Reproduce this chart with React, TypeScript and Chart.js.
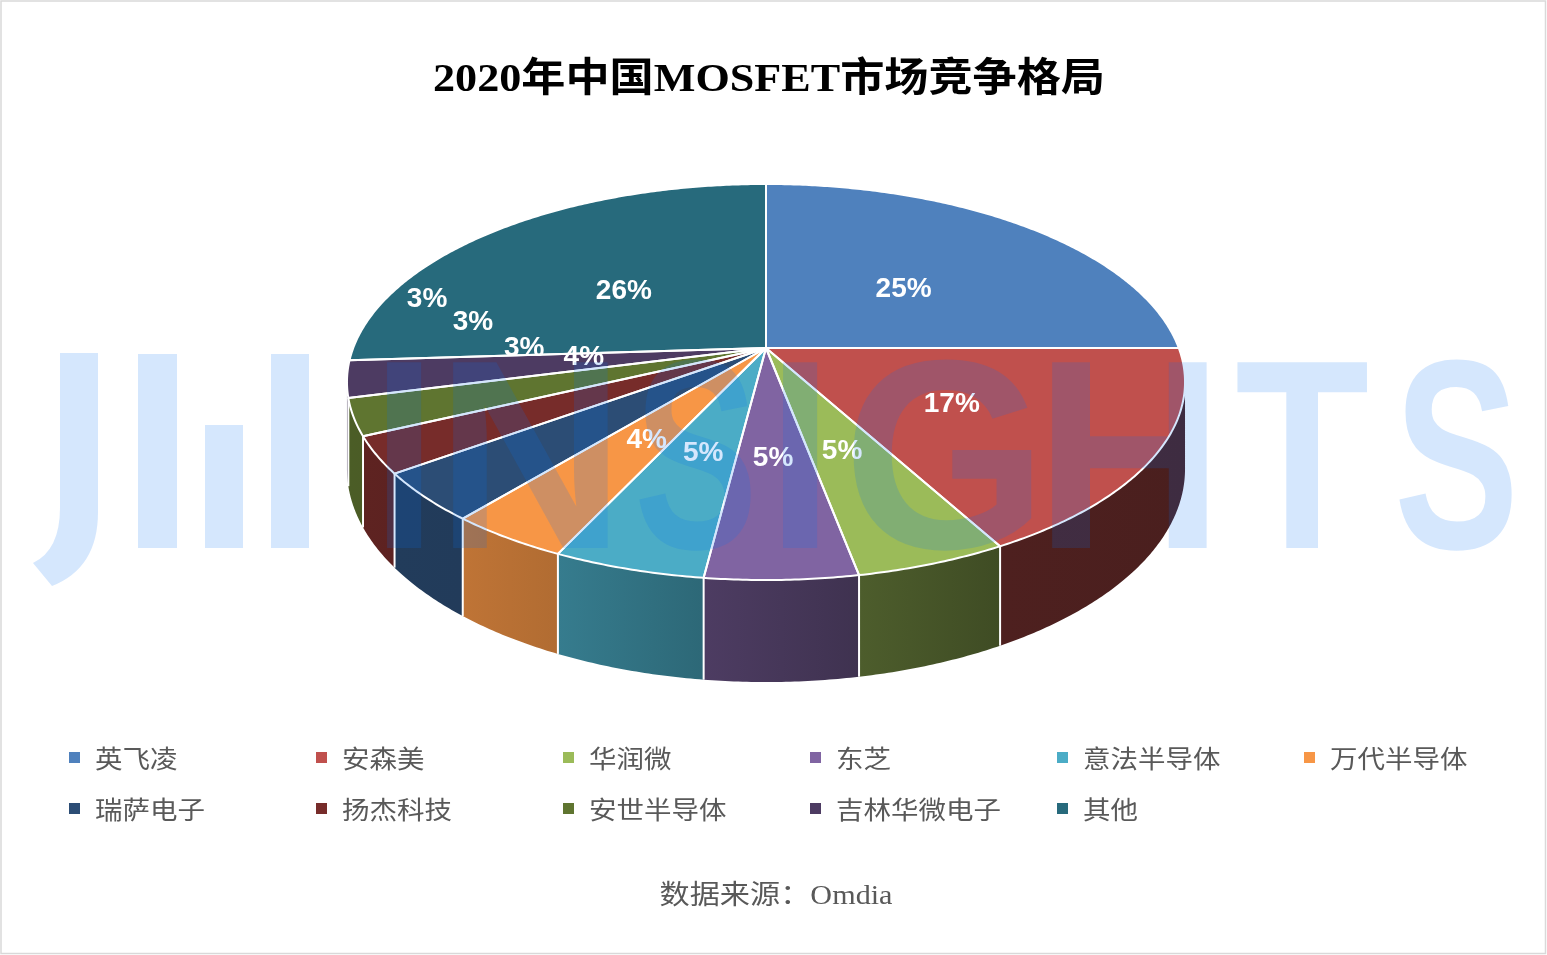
import React, { useEffect, useRef } from 'react';
import { Chart, registerables } from 'chart.js';

Chart.register(...registerables);

// ---------------- data ----------------
const categories = ['英飞凌', '安森美', '华润微', '东芝', '意法半导体', '万代半导体', '瑞萨电子', '扬杰科技', '安世半导体', '吉林华微电子', '其他'];
const shares = [25, 17, 5, 5, 5, 4, 4, 3, 3, 3, 26];
const sliceColors = ['#4F81BD', '#C0504D', '#9BBB59', '#8064A2', '#4BACC6', '#F79646', '#2C4D75', '#772C2A', '#5F7530', '#4D3B62', '#276A7C'];
const chartTitle = '2020年中国MOSFET市场竞争格局';
const sourceNote = '数据来源：Omdia';
const watermarkWord = 'INSIGHTS';

// ---------------- layout / style ----------------
const BASE_W = 1547;
const DEG = Math.PI / 180;
const PIE = { cx: 766, cy: 348, a: 412.8, b: 192.2, p: 0.1717, depth: 84.5 };
const LABEL_R = 0.5;
const LABEL_DY = 5;
// Excel "best fit" moved labels of the narrow slices: [angle deg, radius fraction]
const LABEL_MOVES: Record<number, [number, number]> = { 6: [175.3, 0.44], 7: [181, 0.587], 8: [191.5, 0.743], 9: [197.9, 0.904] };
const WALL_LIGHT: [number, number][] = [[0, 0.38], [60, 0.4], [90, 0.55], [108, 0.68], [125, 0.77], [180, 0.8]];
const WM_COLOR = 'rgba(8,114,243,0.17)';
const WM_LETTERS: [number, number][] = [[386, 423], [452, 608], [637, 753], [782, 819], [851, 1032], [1051, 1207], [1235, 1369], [1397, 1514]];
const SERIF = '"Liberation Serif", "Noto Sans CJK SC", serif';
const CJK = '"Noto Sans CJK SC", "Liberation Serif", sans-serif';

function shade(hex: string, f: number) {
  const n = parseInt(hex.slice(1), 16);
  const r = (n >> 16) & 255, g = (n >> 8) & 255, b = n & 255;
  return `rgb(${Math.round(r * f)},${Math.round(g * f)},${Math.round(b * f)})`;
}

function lightAt(d: number) {
  for (let i = 1; i < WALL_LIGHT.length; i++) {
    const [d0, f0] = WALL_LIGHT[i - 1];
    const [d1, f1] = WALL_LIGHT[i];
    if (d <= d1) return f0 + (f1 - f0) * Math.max(0, (d - d0) / (d1 - d0));
  }
  return WALL_LIGHT[WALL_LIGHT.length - 1][1];
}

function proj(t: number, r = 1) {
  const u = r * Math.cos(t), v = r * Math.sin(t);
  const w = 1 / (1 - PIE.p * v);
  return { x: PIE.cx + PIE.a * u * w, y: PIE.cy + PIE.b * v * w, w };
}

function stretchText(ctx: CanvasRenderingContext2D, text: string, cx: number, cy: number, targetW: number) {
  const w = ctx.measureText(text).width;
  ctx.save();
  ctx.translate(cx, cy);
  ctx.scale(targetW / w, 1);
  ctx.textAlign = 'center';
  ctx.textBaseline = 'middle';
  ctx.fillText(text, 0, 0);
  ctx.restore();
}

const pie3dPlugin = {
  id: 'pie3d',
  beforeDraw(chart: any) {
    const { ctx, width, height } = chart;
    ctx.save();
    ctx.fillStyle = '#ffffff';
    ctx.fillRect(0, 0, width, height);
    ctx.strokeStyle = '#d9d9d9';
    ctx.lineWidth = 1.5;
    ctx.strokeRect(1, 1, width - 2.5, height - 2.5);
    ctx.restore();
  },
  beforeDatasetsDraw(chart: any) {
    const ctx: CanvasRenderingContext2D = chart.ctx;
    const k = chart.width / BASE_W;
    const meta = chart.getDatasetMeta(0);
    const arcs = meta.data.map((el: any, i: number) => {
      const pr = el.getProps(['startAngle', 'endAngle'], true);
      return { s: pr.startAngle as number, e: pr.endAngle as number, color: el.options.backgroundColor as string, i };
    });
    ctx.save();
    ctx.scale(k, k);
    const tMin = Math.asin(PIE.p), tMax = Math.PI - tMin;
    const step = 0.5 * DEG;

    // side walls
    for (const a of arcs) {
      const s = Math.max(a.s, tMin), e = Math.min(a.e, tMax);
      if (e <= s) continue;
      const n = Math.max(2, Math.ceil((e - s) / step));
      ctx.beginPath();
      for (let j = 0; j <= n; j++) {
        const p = proj(s + ((e - s) * j) / n);
        if (j === 0) ctx.moveTo(p.x, p.y); else ctx.lineTo(p.x, p.y);
      }
      for (let j = n; j >= 0; j--) {
        const p = proj(s + ((e - s) * j) / n);
        ctx.lineTo(p.x, p.y + PIE.depth * p.w);
      }
      ctx.closePath();
      const pl = proj(e), pr = proj(s);
      const g = ctx.createLinearGradient(pl.x, 0, pr.x, 0);
      g.addColorStop(0, shade(a.color, lightAt(e / DEG)));
      g.addColorStop(1, shade(a.color, lightAt(s / DEG)));
      ctx.fillStyle = g;
      ctx.fill();
    }
    // wall seams
    ctx.strokeStyle = '#ffffff';
    ctx.lineWidth = 2;
    for (const a of arcs) {
      if (a.s > tMin && a.s < tMax) {
        const p = proj(a.s);
        ctx.beginPath();
        ctx.moveTo(p.x, p.y);
        ctx.lineTo(p.x, p.y + PIE.depth * p.w);
        ctx.stroke();
      }
    }
    // top faces
    const paths: Path2D[] = [];
    for (const a of arcs) {
      const path = new Path2D();
      path.moveTo(PIE.cx, PIE.cy);
      const n = Math.max(2, Math.ceil((a.e - a.s) / step));
      for (let j = 0; j <= n; j++) {
        const p = proj(a.s + ((a.e - a.s) * j) / n);
        path.lineTo(p.x, p.y);
      }
      path.closePath();
      ctx.fillStyle = a.color;
      ctx.fill(path);
      paths.push(path);
    }
    ctx.lineJoin = 'round';
    ctx.strokeStyle = '#ffffff';
    ctx.lineWidth = 2;
    paths.forEach((p) => ctx.stroke(p));

    // data labels
    ctx.fillStyle = '#ffffff';
    ctx.font = 'bold 28px "Liberation Sans", Arial, sans-serif';
    ctx.textAlign = 'center';
    ctx.textBaseline = 'middle';
    for (const a of arcs) {
      const mv = LABEL_MOVES[a.i];
      const p = mv ? proj(mv[0] * DEG, mv[1]) : proj((a.s + a.e) / 2, LABEL_R);
      ctx.fillText(`${shares[a.i]}%`, p.x, p.y + (mv ? 2 : LABEL_DY));
    }

    // watermark overlay
    ctx.fillStyle = WM_COLOR;
    ctx.beginPath();
    ctx.moveTo(60, 353);
    ctx.lineTo(98, 353);
    ctx.lineTo(98, 512);
    ctx.quadraticCurveTo(98, 568, 52, 586);
    ctx.lineTo(33, 563);
    ctx.quadraticCurveTo(60, 550, 60, 508);
    ctx.closePath();
    ctx.fill();
    ctx.fillRect(138, 354, 39, 194);
    ctx.fillRect(205, 425, 38, 123);
    ctx.fillRect(271, 354, 38, 194);
    ctx.font = 'bold 270px "Liberation Sans", Arial, sans-serif';
    ctx.textAlign = 'left';
    ctx.textBaseline = 'alphabetic';
    watermarkWord.split('').forEach((ch, i) => {
      const m = ctx.measureText(ch);
      const inkW = m.actualBoundingBoxLeft + m.actualBoundingBoxRight;
      const [l, r] = WM_LETTERS[i];
      ctx.save();
      ctx.translate(l, 0);
      ctx.scale((r - l) / inkW, 1);
      ctx.fillText(ch, m.actualBoundingBoxLeft, 548);
      ctx.restore();
    });
    ctx.restore();
    return false;
  },
  afterDraw(chart: any) {
    const ctx: CanvasRenderingContext2D = chart.ctx;
    const k = chart.width / BASE_W;
    ctx.save();
    ctx.scale(k, k);
    // title
    ctx.fillStyle = '#000000';
    ctx.font = `bold 40px ${SERIF}`;
    stretchText(ctx, chartTitle, 769, 81, 672);
    // legend
    ctx.font = `25px ${CJK}`;
    ctx.textBaseline = 'middle';
    ctx.textAlign = 'left';
    categories.forEach((c, i) => {
      const col = i % 6, row = Math.floor(i / 6);
      const x = 69 + col * 247;
      const y = 757 + row * 51;
      ctx.fillStyle = sliceColors[i];
      ctx.fillRect(x, y - 5, 11, 11);
      ctx.fillStyle = '#595959';
      ctx.save();
      ctx.translate(x + 26, y + 1);
      ctx.scale(1.1, 1);
      ctx.fillText(c, 0, 0);
      ctx.restore();
    });
    // source note
    ctx.fillStyle = '#595959';
    ctx.font = `27px ${SERIF}`;
    stretchText(ctx, sourceNote, 776, 897, 233);
    ctx.restore();
  },
};

export default function App() {
  const ref = useRef<HTMLCanvasElement>(null);
  useEffect(() => {
    document.body.style.margin = '0';
    const chart = new Chart(ref.current as HTMLCanvasElement, {
      type: 'pie',
      data: {
        labels: categories,
        datasets: [{ data: shares, backgroundColor: sliceColors, borderWidth: 0 }],
      },
      options: {
        responsive: true,
        maintainAspectRatio: false,
        animation: false,
        events: [],
        plugins: {
          legend: { display: false },
          tooltip: { enabled: false },
          title: { display: false },
        },
      },
      plugins: [pie3dPlugin],
    } as any);
    return () => chart.destroy();
  }, []);
  return (
    <div style={{ position: 'relative', width: 1547, height: 955 }}>
      <canvas ref={ref} />
    </div>
  );
}
